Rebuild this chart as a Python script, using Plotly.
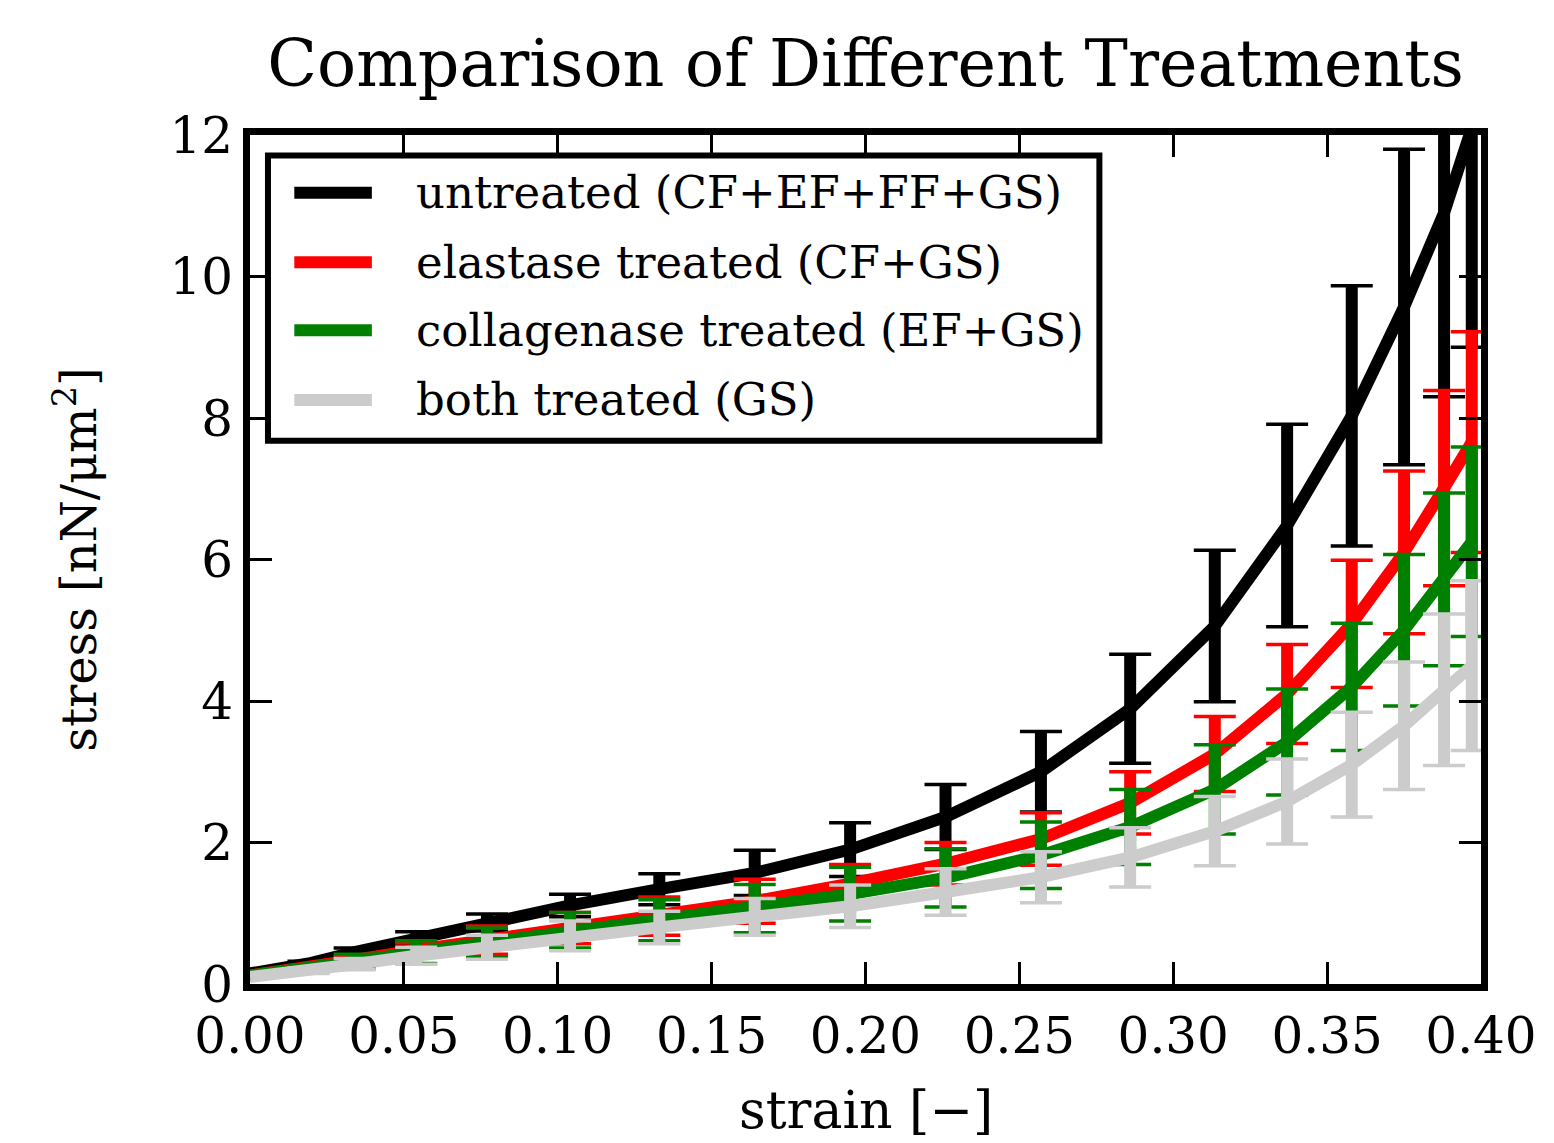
import plotly.graph_objects as go

# ---- data ----
strain = [0.0, 0.019, 0.034, 0.054, 0.077, 0.104, 0.133, 0.164, 0.195, 0.226,
          0.257, 0.286, 0.3135, 0.337, 0.358, 0.375, 0.388, 0.397]

untreated_mean = [0.15, 0.29, 0.45, 0.65, 0.87, 1.11, 1.34, 1.57, 1.90, 2.36,
                  3.00, 3.89, 5.06, 6.48, 8.03, 9.57, 10.9, 12.1]
untreated_err = [0.0, 0.03, 0.06, 0.09, 0.12, 0.16, 0.22, 0.32, 0.38, 0.46,
                 0.57, 0.77, 1.07, 1.43, 1.84, 2.23, 2.6, 3.1]

elastase_mean = [0.12, 0.22, 0.34, 0.48, 0.62, 0.79, 0.96, 1.17, 1.42, 1.70,
                 2.05, 2.56, 3.25, 4.10, 5.09, 6.10, 7.01, 7.66]
elastase_err = [0.0, 0.03, 0.06, 0.10, 0.20, 0.22, 0.27, 0.31, 0.27, 0.30,
                0.37, 0.44, 0.53, 0.70, 0.90, 1.15, 1.38, 1.56]

collagenase_mean = [0.12, 0.21, 0.32, 0.45, 0.58, 0.76, 0.90, 1.065, 1.27, 1.50,
                    1.82, 2.22, 2.75, 3.42, 4.20, 5.00, 5.72, 6.25]
collagenase_err = [0.0, 0.04, 0.10, 0.16, 0.21, 0.25, 0.29, 0.34, 0.38, 0.41,
                   0.47, 0.53, 0.63, 0.75, 0.90, 1.07, 1.22, 1.34]

both_mean = [0.10, 0.19, 0.28, 0.40, 0.52, 0.68, 0.80, 0.95, 1.10, 1.30,
             1.51, 1.79, 2.16, 2.58, 3.10, 3.65, 4.16, 4.50]
both_err = [0.0, 0.04, 0.08, 0.12, 0.17, 0.21, 0.23, 0.26, 0.30, 0.33,
            0.36, 0.42, 0.49, 0.60, 0.74, 0.90, 1.07, 1.20]

series_names = ["untreated (CF+EF+FF+GS)", "elastase treated (CF+GS)",
                "collagenase treated (EF+GS)", "both treated (GS)"]
series_colors = ["#000000", "#ff0000", "#008000", "#cccccc"]
series_means = [untreated_mean, elastase_mean, collagenase_mean, both_mean]
series_errs = [untreated_err, elastase_err, collagenase_err, both_err]

x_ticks = [0.0, 0.05, 0.10, 0.15, 0.20, 0.25, 0.30, 0.35, 0.40]
y_ticks = [0, 2, 4, 6, 8, 10, 12]

FONT = "DejaVu Serif"

fig = go.Figure()
for name, col, m, e in zip(series_names, series_colors, series_means, series_errs):
    # thin caps
    fig.add_trace(go.Scatter(
        x=strain[1:], y=m[1:], mode="markers", marker=dict(size=1, color=col),
        error_y=dict(type="data", array=e[1:], symmetric=True, color=col,
                     thickness=3.5, width=21),
        showlegend=False, hoverinfo="skip"))
    # thick stems
    fig.add_trace(go.Scatter(
        x=strain[1:], y=m[1:], mode="markers", marker=dict(size=1, color=col),
        error_y=dict(type="data", array=e[1:], symmetric=True, color=col,
                     thickness=12, width=0),
        showlegend=False, hoverinfo="skip"))
    # mean curve
    fig.add_trace(go.Scatter(
        x=strain, y=m, mode="lines", name=name,
        line=dict(color=col, width=12), showlegend=False))

axis_common = dict(showline=True, linecolor="black", linewidth=7, mirror="ticks",
                   ticks="inside", ticklen=22, tickwidth=3, tickcolor="black",
                   showgrid=False, zeroline=False,
                   tickfont=dict(family=FONT, size=50, color="black"))

fig.update_xaxes(range=[0, 0.4], tickvals=x_ticks,
                 ticktext=[f"{v:.2f}" for v in x_ticks], ticklabelstandoff=2,
                 **axis_common)
fig.update_yaxes(range=[0, 12], tickvals=y_ticks,
                 ticktext=[str(v) for v in y_ticks], ticklabelstandoff=0,
                 **axis_common)

# custom legend (matplotlib style)
shapes = [dict(type="rect", xref="paper", yref="paper", x0=0.0146, x1=0.690,
               y0=0.640, y1=0.976, line=dict(color="black", width=6),
               fillcolor="white", layer="above")]
annotations = []
row_y = [0.932, 0.850, 0.770, 0.688]
for name, col, yy in zip(series_names, series_colors, row_y):
    shapes.append(dict(type="line", xref="paper", yref="paper", x0=0.036, x1=0.099,
                       y0=yy, y1=yy, line=dict(color=col, width=12), layer="above"))
    annotations.append(dict(text=name, xref="paper", yref="paper", x=0.133, y=yy,
                            xanchor="left", yanchor="middle", showarrow=False,
                            font=dict(family=FONT, size=45, color="black")))

annotations.append(dict(text="strain [\u2212]", xref="paper", yref="paper",
                        x=0.5, y=-0.148, xanchor="center", yanchor="middle",
                        showarrow=False, font=dict(family=FONT, size=52, color="black")))
annotations.append(dict(text="stress [nN/\u03bcm<sup>2</sup>]", xref="paper", yref="paper",
                        x=-0.142, y=0.5, xanchor="center", yanchor="middle", textangle=-90,
                        showarrow=False, font=dict(family=FONT, size=48, color="black")))

fig.update_layout(
    width=1554, height=1143,
    margin=dict(l=250, r=73, t=135, b=159),
    paper_bgcolor="white", plot_bgcolor="white",
    title=dict(text="Comparison of Different Treatments", x=0.557, xanchor="center",
               y=1 - 63 / 1143, yanchor="middle", yref="container",
               font=dict(family=FONT, size=65, color="black")),
    shapes=shapes, annotations=annotations, showlegend=False,
)

fig.write_html("out.html")
